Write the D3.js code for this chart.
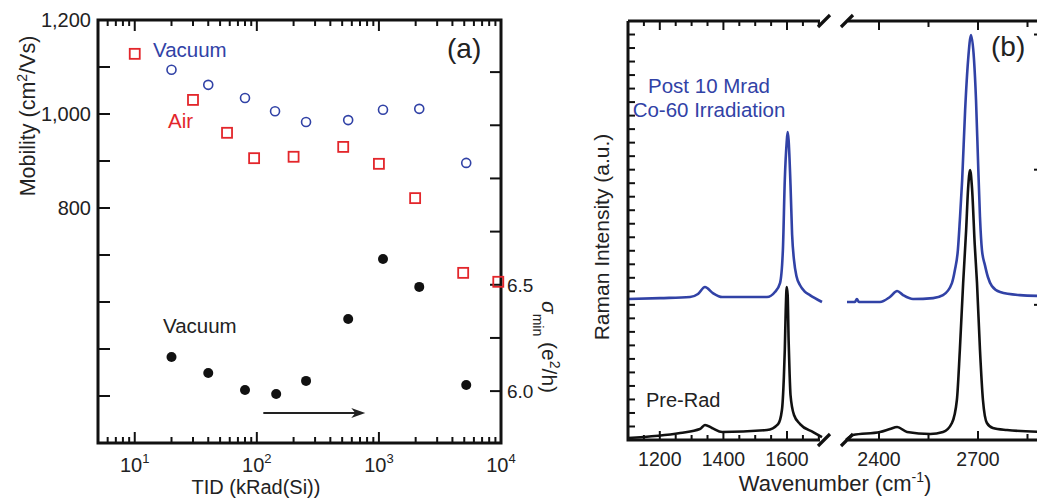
<!DOCTYPE html>
<html>
<head>
<meta charset="utf-8">
<style>
  body { margin: 0; background: #fff; }
  svg { display: block; font-family: "Liberation Sans", Arial, sans-serif; }
  .frame { stroke: #111; stroke-width: 3; fill: none; }
  .tk { stroke: #111; stroke-width: 2; }
</style>
</head>
<body>
<svg width="1037" height="500"></svg>
<script src="https://d3js.org/d3.v7.min.js"></script>
<script>
// ---------- panel (a) data ----------
var airTID = [10, 30, 57, 95, 200, 510, 1000, 1980, 4900, 9500];
var airMobility = [1128, 1030, 960, 906, 909, 930, 894, 821, 662, 643];

var vacTID = [20, 40, 80, 141, 253, 560, 1080, 2140, 5190];
var vacMobility = [1094, 1062, 1034, 1006, 983, 987, 1009, 1011, 896];

var sigmaTID = [20, 40, 80, 144, 253, 560, 1080, 2140, 5190];
var sigmaMin = [6.160, 6.085, 6.005, 5.986, 6.048, 6.339, 6.621, 6.490, 6.029];

var arrowTID = [113, 773];
var arrowSigma = 5.897;

var mobilityLabels = [800, 1000, 1200];
var sigmaLabels = [6.0, 6.5];
var tidDecades = [10, 100, 1000, 10000];

// ---------- panel (b) data: [wavenumber, intensity] ----------
var postRadLow = [[1100,10.43],[1201,10.50],[1295,10.58],[1320,10.80],[1342,11.32],[1367,10.87],[1396,10.58],
  [1537,10.58],[1562,10.95],[1578,11.61],[1587,14.05],[1593,19.23],[1599,22.04],[1602,22.78],[1605,22.19],
  [1611,18.86],[1616,15.2],[1622,13.3],[1630,12.1],[1641,11.45],[1655,11.0],[1672,10.72],[1710,10.21]];
var postRadHigh = [[2303,10.21],[2327,10.21],[2333,10.43],[2339,10.21],[2403,10.21],[2433,10.58],[2455,11.02],
  [2473,10.72],[2503,10.43],[2564,10.50],[2594,10.72],[2621,11.61],[2630,12.57],[2639,14.05],[2645,16.27],
  [2652,19.23],[2661,24.41],[2670,28.11],[2679,29.96],[2688,28.11],[2694,25.15],[2700,20.71],[2706,16.5],
  [2712,14.05],[2721,12.94],[2730,12.06],[2742,11.39],[2767,10.95],[2827,10.72],[2900,10.65]];
var preRadLow = [[1100,0.15],[1264,0.52],[1326,0.81],[1342,1.11],[1364,0.89],[1396,0.59],[1537,0.74],
  [1572,1.18],[1584,2.22],[1590,4.6],[1593,6.66],[1596,9.62],[1599,11.32],[1602,10.72],[1605,7.40],[1608,5.0],
  [1611,3.33],[1622,1.85],[1641,1.18],[1682,0.59],[1710,0.22]];
var preRadHigh = [[2300,0.0],[2321,0.37],[2403,0.59],[2433,0.81],[2455,0.96],[2485,0.59],[2555,0.44],
  [2594,0.59],[2621,1.26],[2636,2.96],[2645,6.66],[2655,11.61],[2664,15.5],[2670,18.6],[2676,19.97],
  [2682,18.6],[2690,14.5],[2697,11.61],[2706,6.66],[2715,2.96],[2727,1.26],[2745,0.89],[2788,0.74],[2900,0.59]];

var lowLabels = [1200, 1400, 1600];
var highLabels = [2400, 2700];

var BLUE = "#3142a6", RED = "#e3262b", BLACK = "#111";

var svg = d3.select("svg");

// ================= panel (a) =================
var x = d3.scaleLog().domain([5, 10000]).range([98, 501]);
var yMob = d3.scaleLinear().domain([300, 1200]).range([443, 20]);
var ySig = d3.scaleLinear().domain([5.756, 7.745]).range([443, 20]);

var ga = svg.append("g");

// log ticks, top and bottom, inward
var logTicks = [];
[1, 10, 100, 1000].forEach(function (dec) {
  for (var m = 1; m <= 9; m++) {
    var v = dec * m;
    if (v >= 5 && v <= 10000) logTicks.push(v);
  }
});
logTicks.push(10000);
logTicks.forEach(function (v) {
  var major = tidDecades.indexOf(v) >= 0;
  var len = major ? 11 : 6;
  ga.append("line").attr("class", "tk")
    .attr("x1", x(v)).attr("x2", x(v)).attr("y1", 443).attr("y2", 443 - len);
  ga.append("line").attr("class", "tk")
    .attr("x1", x(v)).attr("x2", x(v)).attr("y1", 20).attr("y2", 20 + len);
});

// left mobility ticks
d3.range(300, 1201, 100).forEach(function (v) {
  ga.append("line").attr("class", "tk")
    .attr("x1", 98).attr("x2", 110).attr("y1", yMob(v)).attr("y2", yMob(v));
});
// right sigma ticks
d3.range(6.0, 7.51, 0.25).forEach(function (v) {
  ga.append("line").attr("class", "tk")
    .attr("x1", 501).attr("x2", 490).attr("y1", ySig(v)).attr("y2", ySig(v));
});

ga.append("rect").attr("class", "frame")
  .attr("x", 98).attr("y", 20).attr("width", 403).attr("height", 423);

// tick labels
var fmt = d3.format(",");
ga.selectAll(".mlab").data(mobilityLabels).enter().append("text")
  .attr("x", 91).attr("y", function (d) { return yMob(d) + 7; })
  .attr("text-anchor", "end").attr("font-size", 20).attr("fill", "#222")
  .text(function (d) { return fmt(d); });

ga.selectAll(".slab").data(sigmaLabels).enter().append("text")
  .attr("x", 507).attr("y", function (d) { return ySig(d) + 7; })
  .attr("font-size", 19).attr("fill", "#222")
  .text(function (d) { return d.toFixed(1); });

tidDecades.forEach(function (d, i) {
  var t = ga.append("text").attr("x", x(d)).attr("y", 472)
    .attr("text-anchor", "middle").attr("font-size", 20).attr("fill", "#222");
  t.append("tspan").text("10");
  t.append("tspan").attr("dy", -9).attr("font-size", 13).text(String(i + 1));
});

// axis titles
var ml = ga.append("text").attr("transform", "translate(35,116) rotate(-90)")
  .attr("text-anchor", "middle").attr("font-size", 21.5).attr("fill", "#222");
ml.append("tspan").text("Mobility (cm");
ml.append("tspan").attr("dy", -8).attr("font-size", 14).text("2");
ml.append("tspan").attr("dy", 8).text("/Vs)");

ga.append("text").attr("x", 256).attr("y", 494).attr("text-anchor", "middle")
  .attr("font-size", 20).attr("fill", "#222").text("TID (kRad(Si))");

var sl = ga.append("text").attr("transform", "translate(542,301) rotate(90)")
  .attr("font-size", 21).attr("fill", "#222");
sl.append("tspan").attr("font-style", "italic").text("σ");
sl.append("tspan").attr("dy", 9).attr("font-size", 14).text("min");
sl.append("tspan").attr("dy", -9).text("  (e");
sl.append("tspan").attr("dy", -8).attr("font-size", 14).text("2");
sl.append("tspan").attr("dy", 8).text("/h)");

// markers
ga.selectAll(".air").data(airTID).enter().append("rect")
  .attr("x", function (d) { return x(d) - 5; })
  .attr("y", function (d, i) { return yMob(airMobility[i]) - 5; })
  .attr("width", 10).attr("height", 10)
  .attr("fill", "none").attr("stroke", RED).attr("stroke-width", 1.8);

ga.selectAll(".vac").data(vacTID).enter().append("circle")
  .attr("cx", function (d) { return x(d); })
  .attr("cy", function (d, i) { return yMob(vacMobility[i]); })
  .attr("r", 4.5).attr("fill", "none").attr("stroke", BLUE).attr("stroke-width", 1.6);

ga.selectAll(".sig").data(sigmaTID).enter().append("circle")
  .attr("cx", function (d) { return x(d); })
  .attr("cy", function (d, i) { return ySig(sigmaMin[i]); })
  .attr("r", 5).attr("fill", BLACK);

// arrow
var ax0 = x(arrowTID[0]), ax1 = x(arrowTID[1]), ay = ySig(arrowSigma);
ga.append("line").attr("x1", ax0).attr("x2", ax1 - 8).attr("y1", ay).attr("y2", ay)
  .attr("stroke", "#222").attr("stroke-width", 2.2);
ga.append("path")
  .attr("d", "M" + (ax1 - 14) + "," + (ay - 5) + "L" + ax1 + "," + ay + "L" + (ax1 - 14) + "," + (ay + 5) + "L" + (ax1 - 10) + "," + ay + "Z")
  .attr("fill", "#222");

// annotations
ga.append("text").attr("x", 153).attr("y", 57).attr("font-size", 20.5).attr("fill", BLUE).text("Vacuum");
ga.append("text").attr("x", 168).attr("y", 128).attr("font-size", 20.5).attr("fill", RED).text("Air");
ga.append("text").attr("x", 163).attr("y", 333).attr("font-size", 20.5).attr("fill", "#222").text("Vacuum");
ga.append("text").attr("x", 447).attr("y", 58).attr("font-size", 28).attr("fill", "#222").text("(a)");

// ================= panel (b) =================
var gb = svg.append("g");
var xLow = d3.scaleLinear().domain([1100, 1710]).range([628, 822]);
var xHigh = d3.scaleLinear().domain([2300, 2900]).range([846, 1044]);
var yInt = d3.scaleLinear().domain([0, 31]).range([440, 21]);

function lineFor(xs) {
  return d3.line().x(function (d) { return xs(d[0]); }).y(function (d) { return yInt(d[1]); })
    .curve(d3.curveMonotoneX);
}

[[postRadLow, xLow, BLUE], [postRadHigh, xHigh, BLUE], [preRadLow, xLow, BLACK], [preRadHigh, xHigh, BLACK]]
  .forEach(function (s) {
    gb.append("path").attr("d", lineFor(s[1])(s[0]))
      .attr("fill", "none").attr("stroke", s[2]).attr("stroke-width", 2.6)
      .attr("stroke-linejoin", "round");
  });

// y ticks (left, inward) and right axis stubs
d3.range(0, 32).forEach(function (v) {
  gb.append("line").attr("class", "tk")
    .attr("x1", 628).attr("x2", 635).attr("y1", yInt(v)).attr("y2", yInt(v));
  var len = v % 10 === 0 ? 11 : 6;
  gb.append("line").attr("class", "tk")
    .attr("x1", 1045).attr("x2", 1045 - len).attr("y1", yInt(v)).attr("y2", yInt(v));
});

// x ticks
d3.range(1150, 1701, 50).forEach(function (v) {
  var len = v % 200 === 0 ? 9 : 5;
  gb.append("line").attr("class", "tk").attr("x1", xLow(v)).attr("x2", xLow(v)).attr("y1", 440).attr("y2", 440 - len);
  gb.append("line").attr("class", "tk").attr("x1", xLow(v)).attr("x2", xLow(v)).attr("y1", 21).attr("y2", 21 + len);
});
d3.range(2400, 2900, 150).forEach(function (v) {
  var len = v % 300 === 0 ? 9 : 6;
  gb.append("line").attr("class", "tk").attr("x1", xHigh(v)).attr("x2", xHigh(v)).attr("y1", 440).attr("y2", 440 - len);
  gb.append("line").attr("class", "tk").attr("x1", xHigh(v)).attr("x2", xHigh(v)).attr("y1", 21).attr("y2", 21 + len);
});

// axis lines with break
gb.append("path").attr("class", "frame").attr("d", "M628,21L628,440L820,440");
gb.append("path").attr("class", "frame").attr("d", "M628,21L820,21");
gb.append("path").attr("class", "frame").attr("d", "M848,440L1037,440");
gb.append("path").attr("class", "frame").attr("d", "M848,21L1037,21");
[[824, 21], [847, 21], [824, 440], [847, 440]].forEach(function (p) {
  gb.append("line").attr("x1", p[0] - 6).attr("y1", p[1] + 6).attr("x2", p[0] + 6).attr("y2", p[1] - 6)
    .attr("stroke", "#111").attr("stroke-width", 3.2);
});

// tick labels
gb.selectAll(".ll").data(lowLabels).enter().append("text")
  .attr("x", function (d) { return xLow(d); }).attr("y", 466)
  .attr("text-anchor", "middle").attr("font-size", 19.5).attr("fill", "#222").text(function (d) { return d; });
gb.selectAll(".hl").data(highLabels).enter().append("text")
  .attr("x", function (d) { return xHigh(d); }).attr("y", 466)
  .attr("text-anchor", "middle").attr("font-size", 19.5).attr("fill", "#222").text(function (d) { return d; });

var wl = gb.append("text").attr("x", 835).attr("y", 491).attr("text-anchor", "middle")
  .attr("font-size", 22).attr("fill", "#222");
wl.append("tspan").text("Wavenumber (cm");
wl.append("tspan").attr("dy", -9).attr("font-size", 14).text("-1");
wl.append("tspan").attr("dy", 9).text(")");

gb.append("text").attr("transform", "translate(609,237) rotate(-90)")
  .attr("text-anchor", "middle").attr("font-size", 21).attr("fill", "#222").text("Raman Intensity (a.u.)");

gb.append("text").attr("x", 709).attr("y", 93).attr("text-anchor", "middle")
  .attr("font-size", 20.5).attr("fill", BLUE).text("Post 10 Mrad");
gb.append("text").attr("x", 709).attr("y", 117).attr("text-anchor", "middle")
  .attr("font-size", 20.5).attr("fill", BLUE).text("Co-60 Irradiation");
gb.append("text").attr("x", 646).attr("y", 407).attr("font-size", 20).attr("fill", "#222").text("Pre-Rad");
gb.append("text").attr("x", 991).attr("y", 56).attr("font-size", 28).attr("fill", "#222").text("(b)");
</script>
</body>
</html>
